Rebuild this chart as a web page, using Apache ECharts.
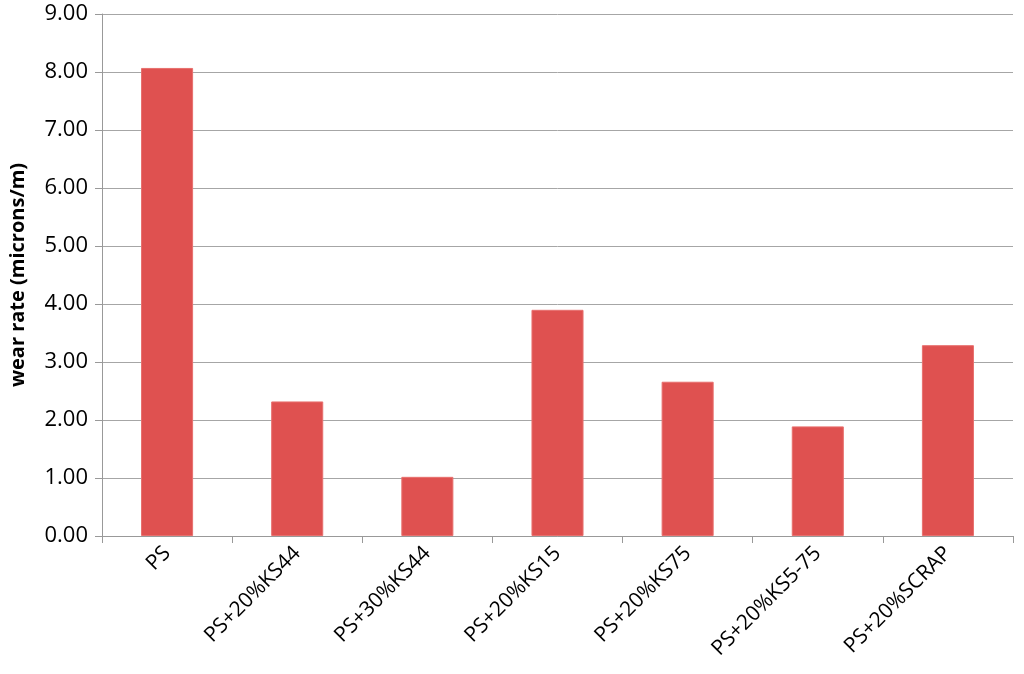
<!DOCTYPE html>
<html>
<head>
<meta charset="utf-8">
<script src="https://cdn.jsdelivr.net/npm/echarts@6/dist/echarts.min.js"></script>
<style>
  html, body { margin: 0; padding: 0; background: #fff; }
  #chart { width: 1024px; height: 674px; }
</style>
</head>
<body>
<div id="chart"></div>
<script>
// wear rate per sample
var categories = ['PS', 'PS+20%KS44', 'PS+30%KS44', 'PS+20%KS15', 'PS+20%KS75', 'PS+20%KS5-75', 'PS+20%SCRAP'];
var wearRate = [8.07, 2.32, 1.02, 3.90, 2.66, 1.89, 3.29];
var yTicks = { min: 0, max: 9, step: 1 };

var chart = echarts.init(document.getElementById('chart'), null, { renderer: 'canvas' });
var font = '"Open Sans", "Noto Sans", sans-serif';

var option = {
  animation: false,
  grid: { left: 102, right: 11, top: 14, bottom: 138 },
  xAxis: {
    type: 'category',
    data: categories,
    axisLine: { lineStyle: { color: '#999', width: 1 } },
    axisTick: { show: true, length: 7, lineStyle: { color: '#999' } },
    axisLabel: { rotate: 45, margin: 14, color: '#000', fontSize: 21, fontFamily: font, interval: 0 },
    splitLine: { show: false }
  },
  yAxis: {
    type: 'value',
    min: yTicks.min,
    max: yTicks.max,
    interval: yTicks.step,
    name: 'wear rate (microns/m)',
    nameLocation: 'middle',
    nameGap: 74,
    nameTextStyle: { fontSize: 20, fontWeight: 'bold', color: '#000', fontFamily: font },
    axisLine: { show: true, lineStyle: { color: '#999' } },
    axisTick: { show: true, length: 7, lineStyle: { color: '#999' } },
    axisLabel: {
      color: '#000', fontSize: 22, fontFamily: font, margin: 14,
      formatter: function (v) { return v.toFixed(2); }
    },
    splitLine: { show: true, lineStyle: { color: '#a6a6a6', width: 1 } }
  },
  series: [{
    type: 'bar',
    data: wearRate,
    barWidth: '40%',
    itemStyle: { color: '#df5150', borderColor: '#e8706e', borderWidth: 1 }
  }]
};
chart.setOption(option);
</script>
</body>
</html>
